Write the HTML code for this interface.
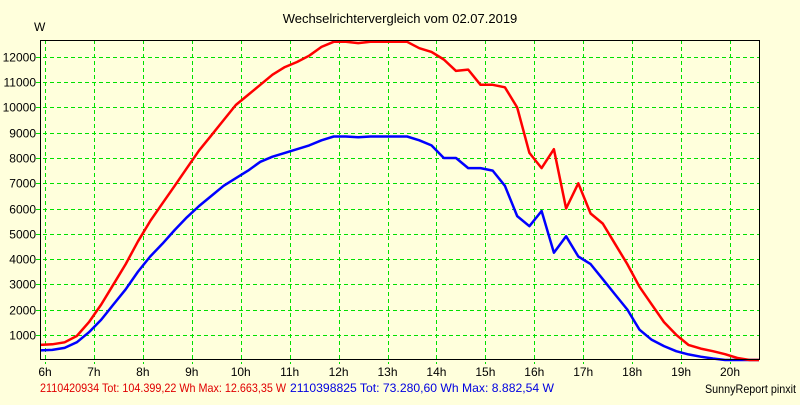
<!DOCTYPE html>
<html><head><meta charset="utf-8"><style>
body{margin:0;background:#ffffdc;}
svg text{font-family:"Liberation Sans",sans-serif;font-size:12px;}
</style></head><body>
<svg id="c" width="800" height="400" xmlns="http://www.w3.org/2000/svg">
<rect width="800" height="400" fill="#ffffdc"/>
<text x="400" y="23" text-anchor="middle" style="font-size:13px">Wechselrichtervergleich vom 02.07.2019</text>
<text x="34" y="31">W</text>
<g id="grid"></g><g id="series"></g>
<line x1="40.5" y1="40" x2="40.5" y2="360" stroke="#000"/>
<line x1="40" y1="359.5" x2="760" y2="359.5" stroke="#000"/>
<line x1="40" y1="40.5" x2="760" y2="40.5" stroke="#000"/>
<line x1="759.5" y1="40" x2="759.5" y2="360" stroke="#000"/>
<text x="40" y="392" fill="#e00000" textLength="246" lengthAdjust="spacingAndGlyphs">2110420934 Tot: 104.399,22 Wh Max: 12.663,35 W</text>
<text x="290" y="392" fill="#0000e0" textLength="264" lengthAdjust="spacingAndGlyphs">2110398825 Tot: 73.280,60 Wh Max: 8.882,54 W</text>
<text x="796" y="393" text-anchor="end" textLength="91" lengthAdjust="spacingAndGlyphs">SunnyReport pinxit</text>
</svg>
<script>
const hourTicks=[6,7,8,9,10,11,12,13,14,15,16,17,18,19,20];
const yTicks=[1000,2000,3000,4000,5000,6000,7000,8000,9000,10000,11000,12000];
const startHour=5.9;
const stepHour=0.25;
const redValues=[600,620,700,950,1500,2200,3000,3800,4700,5500,6200,6900,7600,8300,8900,9500,10100,10500,10900,11300,11600,11800,12050,12400,12600,12600,12550,12600,12600,12600,12600,12350,12200,11900,11450,11500,10900,10900,10800,10000,8200,7600,8350,6000,7000,5800,5400,4600,3800,2900,2200,1500,1000,600,450,350,230,80,0,0];
const blueValues=[380,400,480,700,1100,1600,2200,2800,3500,4100,4600,5150,5650,6100,6500,6900,7200,7500,7850,8050,8200,8350,8500,8700,8850,8850,8820,8850,8850,8850,8850,8700,8500,8000,8000,7600,7600,7500,6900,5700,5300,5900,4250,4900,4100,3800,3200,2600,2000,1200,800,550,350,220,130,60,0,0,0,0];
const NS="http://www.w3.org/2000/svg";
function xs(h){return 45+(h-6)*48.93;}
function ys(v){return 360-v*0.02525;}
const grid=document.getElementById('grid');
hourTicks.forEach(h=>{
 const l=document.createElementNS(NS,'line');
 
 
 const x=Math.round(xs(h))+0.5;
 l.setAttribute('x1',x);l.setAttribute('x2',x);l.setAttribute('y1',40);l.setAttribute('y2',364);
 l.setAttribute('stroke','#00e000');l.setAttribute('stroke-dasharray','4,3');
 grid.appendChild(l);
 const t=document.createElementNS(NS,'text');
 
 
 t.setAttribute('x',xs(h));t.setAttribute('y',376);t.setAttribute('text-anchor','middle');
 t.textContent=h+'h';grid.appendChild(t);
});
yTicks.forEach(v=>{
 const l=document.createElementNS(NS,'line');
 
 
 const y=Math.round(ys(v))+0.5;
 l.setAttribute('x1',36);l.setAttribute('x2',760);l.setAttribute('y1',y);l.setAttribute('y2',y);
 l.setAttribute('stroke','#00e000');l.setAttribute('stroke-dasharray','4,3');
 grid.appendChild(l);
 const t=document.createElementNS(NS,'text');
 
 
 t.setAttribute('x',36);t.setAttribute('y',y+4);t.setAttribute('text-anchor','end');
 t.textContent=v;grid.appendChild(t);
});
function drawSeries(vals,color,name){
 const pts=vals.map((v,i)=>[Math.min(xs(startHour+i*stepHour),759),ys(v)]);
 const p=document.createElementNS(NS,'polyline');
 
 
 p.setAttribute('points',pts.map(q=>q[0].toFixed(1)+','+q[1].toFixed(1)).join(' '));
 p.setAttribute('fill','none');p.setAttribute('stroke',color);p.setAttribute('stroke-width','2.5');
 p.setAttribute('stroke-linejoin','round');
 document.getElementById('series').appendChild(p);
}
drawSeries(blueValues,'#0000ff','blue-series-line');
drawSeries(redValues,'#ff0000','red-series-line');
</script>
</body></html>
